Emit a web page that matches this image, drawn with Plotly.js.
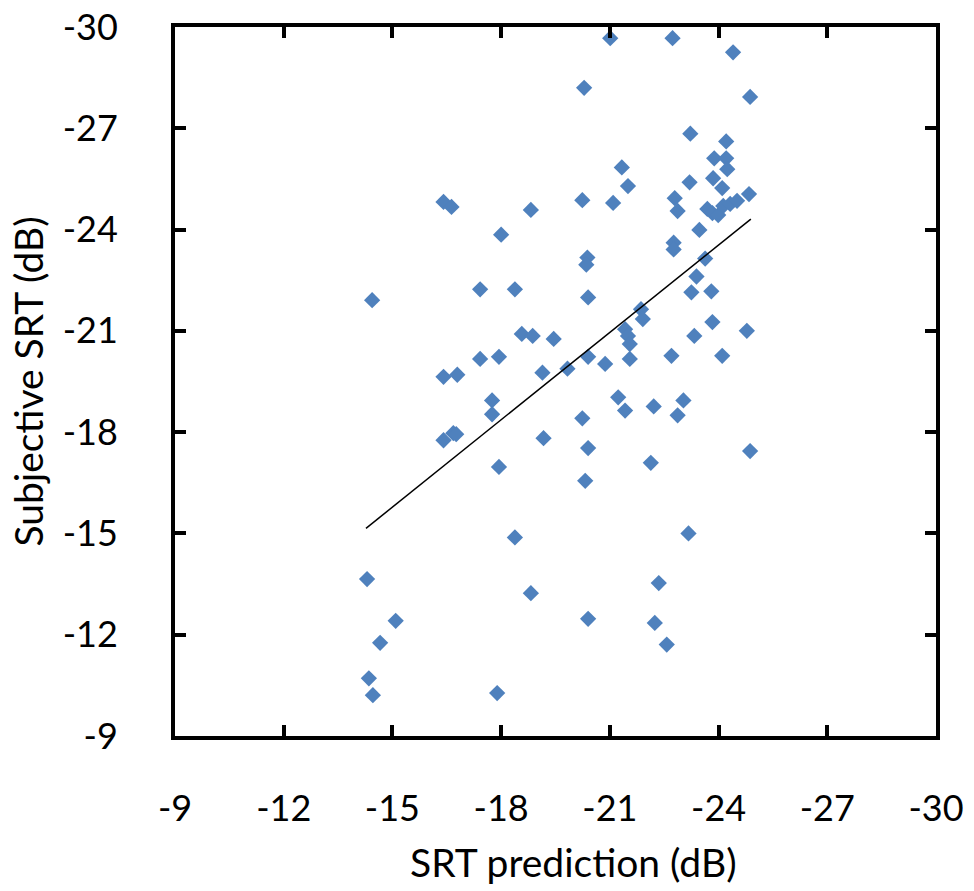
<!DOCTYPE html>
<html>
<head>
<meta charset="utf-8">
<script src="https://cdn.plot.ly/plotly-3.0.1.min.js"></script>
<style>
  html, body { margin: 0; padding: 0; background: #ffffff; }
  #chart { width: 974px; height: 891px; }
</style>
</head>
<body>
<div id="chart"></div>
<script>
// SRT prediction (dB) for each listener/condition
const srtPrediction = [
  -14.44, -16.41, -16.63, -18.00, -18.82, -21.01, -22.73, -24.40, -20.29, -24.87,
  -23.22, -24.21, -23.88, -24.21, -24.24, -21.33, -21.50, -23.20, -23.85, -24.10,
  -20.24, -21.09, -22.79, -22.87, -24.84, -23.69, -23.83, -23.99, -24.13, -24.32,
  -24.51, -23.47, -22.76, -22.76, -20.38, -20.35, -23.63, -17.42, -18.38, -18.57,
  -18.87, -19.45, -17.42, -17.94, -16.41, -16.79, -19.14, -17.75, -17.75, -16.41,
  -16.68, -16.76, -19.17, -17.94, -20.40, -23.39, -23.25, -23.80, -21.86, -21.91,
  -23.83, -24.78, -23.33, -21.42, -21.50, -21.55, -20.40, -20.87, -21.55, -22.70,
  -24.10, -19.83, -21.23, -21.42, -22.21, -23.03, -22.87, -20.24, -20.40, -24.87,
  -22.13, -20.32, -18.38, -14.30, -18.82, -15.09, -14.66, -14.35, -14.46, -17.89,
  -23.17, -22.35, -20.40, -22.24, -22.57
];
// Subjective SRT (dB)
const subjectiveSRT = [
  -21.91, -24.82, -24.67, -23.85, -24.58, -29.67, -29.67, -29.25, -28.20, -27.93,
  -26.84, -26.61, -26.11, -26.11, -25.79, -25.84, -25.29, -25.40, -25.52, -25.23,
  -24.87, -24.79, -24.93, -24.55, -25.05, -24.61, -24.49, -24.43, -24.70, -24.76,
  -24.85, -23.99, -23.61, -23.41, -23.17, -22.96, -23.14, -22.23, -22.23, -20.91,
  -20.85, -20.76, -20.17, -20.23, -19.64, -19.70, -19.76, -18.94, -18.53, -17.76,
  -17.97, -17.94, -17.82, -16.97, -21.99, -22.61, -22.14, -22.17, -21.64, -21.35,
  -21.26, -21.00, -20.85, -21.05, -20.85, -20.61, -20.23, -20.02, -20.17, -20.26,
  -20.26, -19.88, -19.03, -18.64, -18.76, -18.94, -18.50, -18.41, -17.53, -17.44,
  -17.09, -16.56, -14.88, -13.65, -13.23, -12.41, -11.76, -10.71, -10.21, -10.27,
  -15.00, -13.53, -12.47, -12.35, -11.71
];
// Linear trend line end points
const trendX = [-14.27, -24.89];
const trendY = [-15.15, -24.31];
// Axis ticks
const tickValues = [-9, -12, -15, -18, -21, -24, -27, -30];
const tickLabels = ['-9', '-12', '-15', '-18', '-21', '-24', '-27', '-30'];
// Axis titles
const xTitle = 'SRT prediction (dB)';
const yTitle = 'Subjective SRT (dB)';

const fontFamily = 'Lato, "Open Sans", sans-serif';

const traces = [
  {
    type: 'scatter',
    mode: 'markers',
    x: srtPrediction,
    y: subjectiveSRT,
    marker: { symbol: 'diamond', size: 12.5, color: '#4F81BD', line: { width: 0 } },
    hoverinfo: 'x+y',
    showlegend: false
  },
  {
    type: 'scatter',
    mode: 'lines',
    x: trendX,
    y: trendY,
    line: { color: '#000000', width: 1.5 },
    hoverinfo: 'skip',
    showlegend: false
  }
];

const axisCommon = {
  tickmode: 'array',
  tickvals: tickValues,
  ticktext: tickLabels,
  showgrid: false,
  zeroline: false,
  showline: true,
  linecolor: '#000000',
  linewidth: 4,
  mirror: 'ticks',
  ticks: 'inside',
  ticklen: 11,
  tickwidth: 4,
  tickcolor: '#000000',
  tickfont: { family: fontFamily, size: 36, color: '#000000' },
  automargin: false
};

const layout = {
  width: 974,
  height: 891,
  margin: { l: 175, r: 38, t: 27, b: 155 },
  paper_bgcolor: '#ffffff',
  plot_bgcolor: '#ffffff',
  font: { family: fontFamily, color: '#000000' },
  showlegend: false,
  xaxis: Object.assign({}, axisCommon, {
    range: [-9, -30],
    ticklabelstandoff: 38
  }),
  yaxis: Object.assign({}, axisCommon, {
    range: [-9, -30],
    ticklabelstandoff: 46,
    title: { text: yTitle, font: { family: fontFamily, size: 39, color: '#000000' }, standoff: 8 }
  }),
  annotations: [
    {
      text: xTitle,
      xref: 'paper', yref: 'paper',
      x: 0.524, y: -0.178,
      xanchor: 'center', yanchor: 'middle',
      showarrow: false,
      font: { family: fontFamily, size: 39, color: '#000000' }
    }
  ]
};

Plotly.newPlot('chart', traces, layout, { displayModeBar: false, staticPlot: true });
</script>
</body>
</html>
